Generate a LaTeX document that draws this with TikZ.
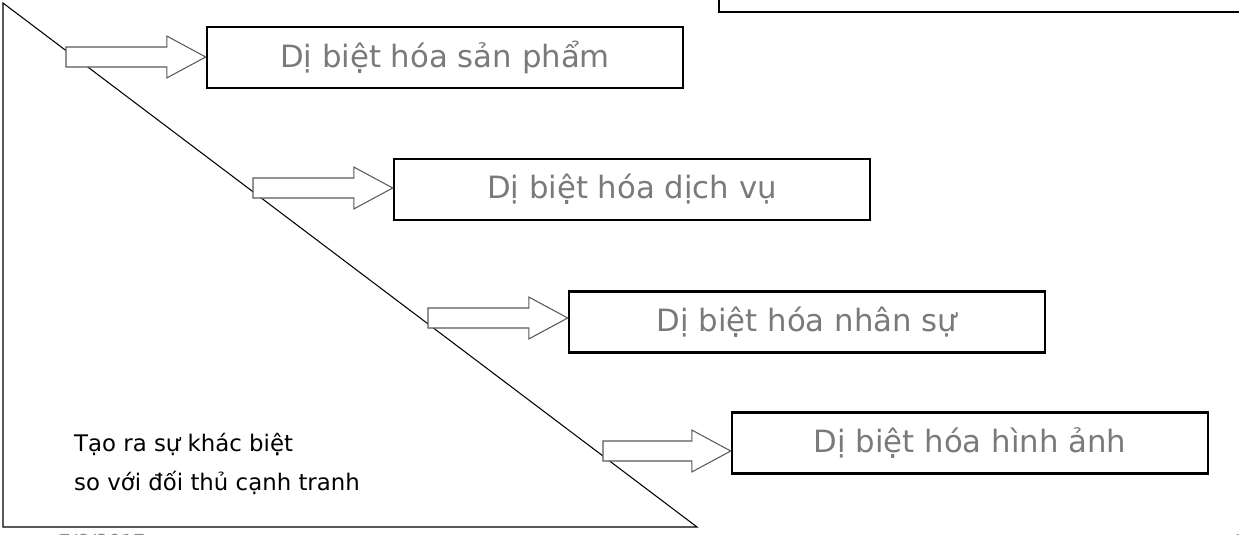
\documentclass[tikz,border=0pt]{standalone}
\usepackage{fontspec}
\setmainfont{DejaVu Sans}
\usetikzlibrary{calc}

\tikzset{
  diffbox/.style={draw,line width=1.5pt,minimum width=9.52cm,minimum height=1.22cm,
    text=black!52,font=\fontsize{17.5}{20}\selectfont},
  fatline/.style={draw=black!65,line width=0.6pt,fill=white},
}
% block arrow from a tail point to the west side of a box
\newcommand{\fatarrow}[2]{%
  \draw[fatline] let \p1=(#1), \p2=(#2) in
    (\x1,\y1+5.7pt) -- (\x2-22.1pt,\y1+5.7pt) -- (\x2-22.1pt,\y1+11.9pt)
    -- (\x2,\y1) -- (\x2-22.1pt,\y1-11.9pt) -- (\x2-22.1pt,\y1-5.7pt)
    -- (\x1,\y1-5.7pt) -- cycle;}

\begin{document}
\begin{tikzpicture}[x=0.02cm,y=-0.02cm]
    \useasboundingbox (0,0) rectangle (1239,534);
    \clip (0,0) rectangle (1239,534);

    % triangle
    \draw[line width=0.6pt] (3,3)--(3,527)--(697,527)--cycle;

    % box cut off at the top
    \draw[line width=1.5pt] (719,-20) rectangle (1260,12);

    \node[diffbox] (prod) at (445,57.5) {Dị biệt hóa sản phẩm};
    \node[diffbox] (serv) at (632,189.5) {Dị biệt hóa dịch vụ};
    \node[diffbox] (staff) at (807,322) {Dị biệt hóa nhân sự};
    \node[diffbox] (img) at (970,443) {Dị biệt hóa hình ảnh};

    \coordinate (t1) at (66,57);
    \coordinate (t2) at (253,188);
    \coordinate (t3) at (428,318);
    \coordinate (t4) at (603,451);

    \fatarrow{t1}{prod.west}
    \fatarrow{t2}{serv.west}
    \fatarrow{t3}{staff.west}
    \fatarrow{t4}{img.west}

    \node (goal) at (68,464) [anchor=west,align=left,font=\fontsize{13}{22.7}\selectfont]
        {Tạo ra sự khác biệt\\so với đối thủ cạnh tranh};

    \node (date) at (102,528) [anchor=north,text=black!45,font=\fontsize{11}{13}\selectfont] {7/8/2017};
    \node (page) at (1228,528) [anchor=north west,text=black!45,font=\fontsize{11}{13}\selectfont] {1};
\end{tikzpicture}
\end{document}
